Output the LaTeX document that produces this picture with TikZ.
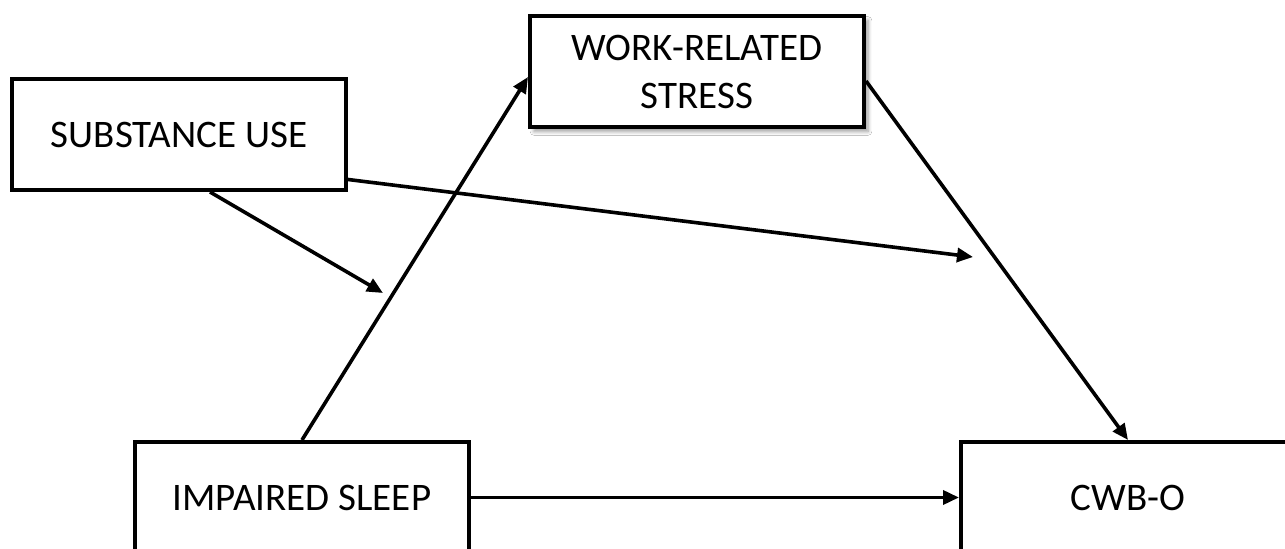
\documentclass[tikz,border=0pt]{standalone}
\usepackage{fontspec}
\setmainfont{Carlito}
\usetikzlibrary{arrows.meta,calc,shadows.blur}
\begin{document}
\begin{tikzpicture}[x=0.5pt,y=-0.5pt,
  box/.style={draw=black,line width=2pt,fill=white,minimum width=167pt,minimum height=55.5pt,
    inner sep=0pt,align=center,font=\fontsize{19.5}{24}\selectfont},
  conn/.style={line width=1.8pt,-{Triangle[length=8pt,width=7pt]}}]
\useasboundingbox (0,0) rectangle (1285,549);
\clip (0,0) rectangle (1285,549);
\fill[white] (0,0) rectangle (1285,549);
\node[box] (SU) at (179,134.5) {SUBSTANCE USE};
\node[box,blur shadow={shadow xshift=2pt,shadow yshift=-2pt,shadow blur steps=6,shadow opacity=40}] (WRS) at (697,72) {WORK-RELATED\\STRESS};
\node[box] (IS) at (302,497.5) {IMPAIRED SLEEP};
\node[box] (CWB) at (1128,497.5) {CWB-O};
\coordinate (m1) at (383,293);
\coordinate (m2) at (973,257);
\draw[conn] (IS.north) -- ($(WRS.west)+(0,5)$);
\draw[conn] ($(SU.south)+(31,0)$) -- (m1);
\draw[conn] ($(SU.east)+(0,45)$) -- (m2);
\draw[conn] ($(WRS.east)+(0,9)$) -- (CWB.north);
\draw[conn] (IS.east) -- (CWB.west);
\end{tikzpicture}
\end{document}
